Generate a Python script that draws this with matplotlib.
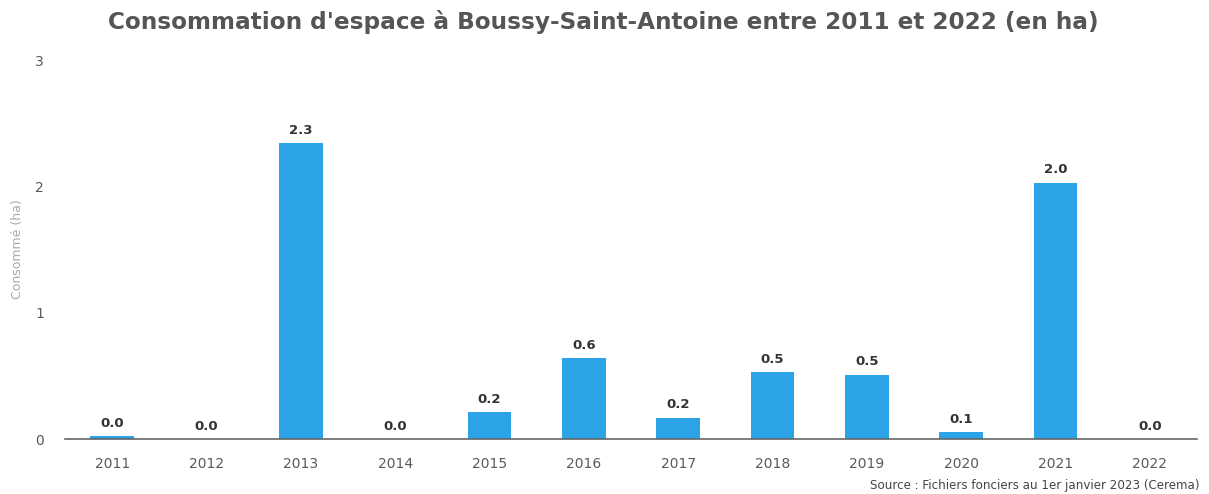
import matplotlib
matplotlib.use("Agg")
import matplotlib.pyplot as plt

plt.rcParams["font.family"] = ["DejaVu Sans"]

years = ["2011", "2012", "2013", "2014", "2015", "2016", "2017", "2018", "2019", "2020", "2021", "2022"]
values = [0.02, 0.0, 2.34, 0.0, 0.21, 0.64, 0.17, 0.53, 0.51, 0.055, 2.03, 0.0]
labels = ["0.0", "0.0", "2.3", "0.0", "0.2", "0.6", "0.2", "0.5", "0.5", "0.1", "2.0", "0.0"]
yticks = [0, 1, 2, 3]

fig = plt.figure(figsize=(12.09, 4.94), dpi=100)
ax = fig.add_axes([65/1209, 1-439/494, (1197-65)/1209, (439-60)/494])

x = list(range(len(years)))
ax.bar(x, values, width=0.46, color="#2ba3e6", zorder=2)
for xi, v, lab in zip(x, values, labels):
    ax.text(xi, v + 0.05, lab, ha="center", va="bottom", fontsize=9.5,
            fontweight="bold", color="#333333")

ax.set_xlim(-0.5, len(years) - 0.5)
ax.set_ylim(0, 3)
ax.set_xticks(x)
ax.set_xticklabels(years, fontsize=10, color="#5a5a5a")
ax.set_yticks(yticks)
ax.set_yticklabels([str(t) for t in yticks], fontsize=10, color="#5a5a5a")
ax.tick_params(length=0)
ax.tick_params(axis="x", pad=13)
ax.tick_params(axis="y", pad=15)
for s in ["top", "right", "left"]:
    ax.spines[s].set_visible(False)
ax.spines["bottom"].set_color("#666666")
ax.spines["bottom"].set_linewidth(1.2)
ax.spines["bottom"].set_zorder(3)

ax.set_ylabel("Consommé (ha)", fontsize=9, color="#aaaaaa")
ax.yaxis.set_label_coords(-0.036, 0.5)

fig.text(603/1209, 1-22/494, "Consommation d'espace à Boussy-Saint-Antoine entre 2011 et 2022 (en ha)",
         ha="center", va="center", fontsize=16.7, fontweight="bold", color="#555555")
fig.text(1200/1209, 1-485/494, "Source : Fichiers fonciers au 1er janvier 2023 (Cerema)",
         ha="right", va="center", fontsize=8.6, color="#444444")

fig.savefig("out.png", dpi=100)
